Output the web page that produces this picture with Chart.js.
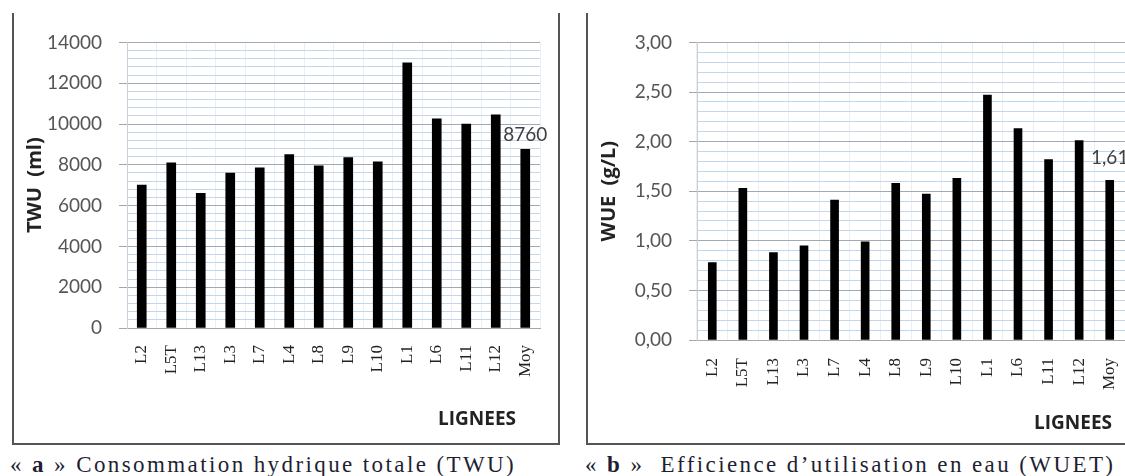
<!DOCTYPE html>
<html lang="fr">
<head>
<meta charset="UTF-8">
<title>TWU et WUE par lignée</title>
<script src="https://cdn.jsdelivr.net/npm/chart.js"></script>
<style>
    body { margin: 0; width: 1125px; height: 476px; overflow: hidden; background: #fff; position: relative; }
    .cadre { position: absolute; border: 2px solid #555; border-top: none; box-sizing: border-box; }
    #cadreA { left: 12px; top: 13px; width: 548px; height: 432px; }
    #cadreB { left: 586px; top: 13px; width: 600px; height: 432px; border-right: none; }
    canvas { position: absolute; }
    #twu { left: 14px; top: 14px; }
    #wue { left: 588px; top: 14px; }
    .axeX { position: absolute; font: bold 19px 'Open Sans'; color: #222; transform: translate(-50%, -50%); }
    .legende { position: absolute; top: 452px; font: 23px 'Liberation Serif'; letter-spacing: 2.4px; color: #1f1f33; white-space: nowrap; }
</style>
</head>
<body>
    <div class="cadre" id="cadreA"></div>
    <div class="cadre" id="cadreB"></div>
    <canvas id="twu" width="550" height="428"></canvas>
    <canvas id="wue" width="561" height="428"></canvas>
    <div class="axeX" style="left:477px; top:418px;">LIGNEES</div>
    <div class="axeX" style="left:1073px; top:422px;">LIGNEES</div>
    <div class="legende" style="left:10px;">« <b>a</b> » Consommation hydrique totale (TWU)</div>
    <div class="legende" style="left:585px;">« <b>b</b> »&nbsp; Efficience d’utilisation en eau (WUET)</div>
<script>
    // données
    const lignees = ['L2', 'L5T', 'L13', 'L3', 'L7', 'L4', 'L8', 'L9', 'L10', 'L1', 'L6', 'L11', 'L12', 'Moy'];
    const twu = [7000, 8100, 6600, 7600, 7850, 8500, 7950, 8350, 8150, 13000, 10250, 10000, 10450, 8760];
    const wue = [0.78, 1.53, 0.88, 0.95, 1.41, 0.99, 1.58, 1.47, 1.63, 2.47, 2.13, 1.82, 2.01, 1.61];

    const virgule = v => v.toFixed(2).replace('.', ',');

    // étiquette de valeur sur la dernière barre (Moy)
    const etiquetteMoy = {
        id: 'etiquetteMoy',
        afterDatasetsDraw(chart, args, opts) {
            const meta = chart.getDatasetMeta(0);
            const barre = meta.data[meta.data.length - 1];
            const ctx = chart.ctx;
            ctx.save();
            ctx.font = '19px Lato';
            ctx.fillStyle = '#404040';
            ctx.textAlign = 'center';
            ctx.textBaseline = 'middle';
            ctx.fillText(opts.texte, barre.x, barre.y - opts.decalage);
            ctx.restore();
        }
    };

    function graphique(id, valeurs, o) {
        return new Chart(document.getElementById(id), {
            type: 'bar',
            data: {
                labels: lignees,
                datasets: [{ data: valeurs, backgroundColor: '#000', barThickness: o.epaisseur }]
            },
            options: {
                responsive: false,
                animation: false,
                layout: { padding: { left: 8, top: o.haut, right: 24, bottom: 0 } },
                plugins: {
                    legend: { display: false },
                    tooltip: { enabled: false },
                    etiquetteMoy: { texte: o.etiquette, decalage: o.decalage }
                },
                scales: {
                    x: {
                        grid: { color: '#eaeff5', drawTicks: false },
                        border: { color: '#a6a6a6' },
                        ticks: {
                            minRotation: 90, maxRotation: 90, autoSkip: false, padding: o.padX,
                            color: '#222', font: { family: 'Liberation Serif', size: 17 }
                        },
                        afterFit: s => { s.height = o.hauteurX; }
                    },
                    y: {
                        min: 0,
                        max: o.max,
                        grid: {
                            color: c => o.majeur(c.tick.value) ? '#9eaab6' : '#c2d7ec',
                            tickColor: c => o.majeur(c.tick.value) ? '#a6a6a6' : 'rgba(0,0,0,0)',
                            tickLength: 8
                        },
                        border: { color: '#c8d0d8' },
                        ticks: {
                            stepSize: o.pas, maxTicksLimit: 100, autoSkip: false, padding: 17,
                            color: '#555', font: { family: 'Lato', size: 19 },
                            callback: v => o.majeur(v) ? o.format(v) : ''
                        },
                        title: {
                            display: true, text: o.titre, color: '#222',
                            font: { family: 'Open Sans', size: 20, weight: 'bold' },
                            padding: { top: 1, bottom: 0 }
                        },
                        afterFit: s => { s.width = o.largeurY; }
                    }
                }
            },
            plugins: [etiquetteMoy]
        });
    }

    graphique('twu', twu, {
        max: 14000, pas: 400,
        majeur: v => Math.round(v) % 2000 === 0,
        format: v => String(v),
        titre: 'TWU  (ml)',
        etiquette: String(twu[twu.length - 1]),
        decalage: 14, epaisseur: 9,
        haut: 13, largeurY: 105, hauteurX: 114, padX: 17
    });

    graphique('wue', wue, {
        max: 3, pas: 0.1,
        majeur: v => Math.round(v * 10) % 5 === 0,
        format: virgule,
        titre: 'WUE  (g/L)',
        etiquette: virgule(wue[wue.length - 1]),
        decalage: 22, epaisseur: 8,
        haut: 19, largeurY: 101, hauteurX: 102, padX: 18
    });
</script>
</body>
</html>
